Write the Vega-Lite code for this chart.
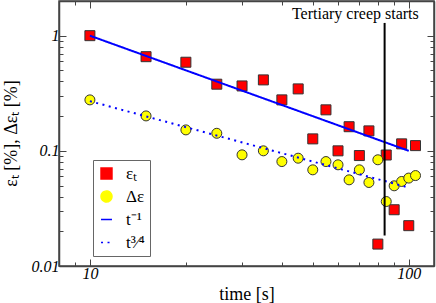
{
  "$schema": "https://vega.github.io/schema/vega-lite/v6.json",
  "width": 375,
  "height": 265,
  "autosize": {"type": "none"},
  "padding": {"left": 59, "top": 1, "right": 2, "bottom": 37},
  "background": "white",
  "config": {
    "view": {"stroke": "#444", "strokeWidth": 1.5},
    "axis": {
      "labelFont": "Liberation Serif", "labelFontStyle": "italic", "labelFontSize": 16, "labelColor": "black",
      "titleFont": "Liberation Serif", "titleFontSize": 18, "titleFontWeight": "normal", "titleColor": "black",
      "domainColor": "#444", "domainWidth": 1.5, "tickColor": "#444", "grid": false
    },
    "legend": {
      "labelFont": "Liberation Serif", "labelFontSize": 17, "labelColor": "black",
      "symbolSize": 120, "symbolStrokeWidth": 1.5, "rowPadding": 5, "padding": 5, "strokeColor": "#666", "fillColor": "white",
      "labelOffset": 11
    }
  },
  "resolve": {"axis": {"x": "independent", "y": "independent"}},
  "layer": [
    {
      "data": {"values": [
        {"t": 10, "v": 1.0, "series": "εₜ"},
        {"t": 15, "v": 0.657, "series": "εₜ"},
        {"t": 20, "v": 0.588, "series": "εₜ"},
        {"t": 25, "v": 0.379, "series": "εₜ"},
        {"t": 30, "v": 0.366, "series": "εₜ"},
        {"t": 35, "v": 0.413, "series": "εₜ"},
        {"t": 40, "v": 0.277, "series": "εₜ"},
        {"t": 45, "v": 0.345, "series": "εₜ"},
        {"t": 50, "v": 0.127, "series": "εₜ"},
        {"t": 55, "v": 0.227, "series": "εₜ"},
        {"t": 60, "v": 0.100, "series": "εₜ"},
        {"t": 65, "v": 0.162, "series": "εₜ"},
        {"t": 70, "v": 0.091, "series": "εₜ"},
        {"t": 75, "v": 0.149, "series": "εₜ"},
        {"t": 80, "v": 0.0155, "series": "εₜ"},
        {"t": 85, "v": 0.092, "series": "εₜ"},
        {"t": 90, "v": 0.0308, "series": "εₜ"},
        {"t": 95, "v": 0.115, "series": "εₜ"},
        {"t": 100, "v": 0.0224, "series": "εₜ"},
        {"t": 105, "v": 0.111, "series": "εₜ"},
        {"t": 10, "v": 0.277, "series": "Δε"},
        {"t": 15, "v": 0.201, "series": "Δε"},
        {"t": 20, "v": 0.152, "series": "Δε"},
        {"t": 25, "v": 0.142, "series": "Δε"},
        {"t": 30, "v": 0.0923, "series": "Δε"},
        {"t": 35, "v": 0.100, "series": "Δε"},
        {"t": 40, "v": 0.0807, "series": "Δε"},
        {"t": 45, "v": 0.0863, "series": "Δε"},
        {"t": 50, "v": 0.0684, "series": "Δε"},
        {"t": 55, "v": 0.0807, "series": "Δε"},
        {"t": 60, "v": 0.0756, "series": "Δε"},
        {"t": 65, "v": 0.056, "series": "Δε"},
        {"t": 70, "v": 0.0684, "series": "Δε"},
        {"t": 75, "v": 0.0531, "series": "Δε"},
        {"t": 80, "v": 0.0836, "series": "Δε"},
        {"t": 85, "v": 0.0363, "series": "Δε"},
        {"t": 90, "v": 0.0497, "series": "Δε"},
        {"t": 95, "v": 0.0542, "series": "Δε"},
        {"t": 100, "v": 0.058, "series": "Δε"},
        {"t": 105, "v": 0.061, "series": "Δε"}
      ]},
      "mark": {"type": "point", "filled": true, "stroke": "#333", "strokeWidth": 1, "size": 100, "opacity": 1},
      "encoding": {
        "x": {"field": "t", "type": "quantitative",
          "scale": {"type": "log", "domain": [8, 120], "nice": false},
          "axis": {"orient": "bottom", "title": "time [s]", "titlePadding": 4,
            "values": [8, 9, 10, 20, 30, 40, 50, 60, 70, 80, 90, 100],
            "labelExpr": "datum.value == 10 ? '10' : datum.value == 100 ? '100' : ''",
            "tickSize": {"condition": {"test": "datum.value == 10 || datum.value == 100", "value": -7}, "value": -4},
            "labelPadding": 6}},
        "y": {"field": "v", "type": "quantitative",
          "scale": {"type": "log", "domain": [0.01, 2], "nice": false},
          "axis": {"orient": "left", "title": "εₜ [%], Δεₜ [%]", "titleX": -39, "titleY": 132,
            "values": [0.01, 0.02, 0.03, 0.04, 0.05, 0.06, 0.07, 0.08, 0.09, 0.1, 0.2, 0.3, 0.4, 0.5, 0.6, 0.7, 0.8, 0.9, 1, 2],
            "labelExpr": "datum.value == 1 ? '1' : datum.value == 0.1 ? '0.1' : datum.value == 0.01 ? '0.01' : ''",
            "tickSize": {"condition": {"test": "datum.value == 1 || datum.value == 0.1 || datum.value == 0.01", "value": -7}, "value": -4},
            "labelPadding": 7}},
        "color": {"field": "series", "type": "nominal",
          "scale": {"domain": ["εₜ", "Δε", "t⁻¹", "t³⁄⁴"], "range": ["#ff0000", "#ffff00", "#0000ff", "#0000ff"]},
          "legend": {"title": null, "orient": "none", "legendX": 34, "legendY": 159}},
        "shape": {"field": "series", "type": "nominal",
          "scale": {"domain": ["εₜ", "Δε", "t⁻¹", "t³⁄⁴"], "range": ["square", "circle", "stroke", "stroke"]},
          "legend": {"title": null, "orient": "none", "legendX": 34, "legendY": 159}}
      }
    },
    {
      "data": {"values": [
        {"t": 10, "v": 1.0, "series": "t⁻¹"},
        {"t": 100, "v": 0.1, "series": "t⁻¹"},
        {"t": 10, "v": 0.27, "series": "t³⁄⁴"},
        {"t": 100, "v": 0.048, "series": "t³⁄⁴"}
      ]},
      "mark": {"type": "line", "strokeWidth": 2},
      "encoding": {
        "x": {"field": "t", "type": "quantitative",
          "axis": {"orient": "top", "title": null, "labels": false,
            "values": [8, 9, 10, 20, 30, 40, 50, 60, 70, 80, 90, 100],
            "tickSize": {"condition": {"test": "datum.value == 10 || datum.value == 100", "value": -7}, "value": -4}}},
        "y": {"field": "v", "type": "quantitative",
          "axis": {"orient": "right", "title": null, "labels": false,
            "values": [0.01, 0.02, 0.03, 0.04, 0.05, 0.06, 0.07, 0.08, 0.09, 0.1, 0.2, 0.3, 0.4, 0.5, 0.6, 0.7, 0.8, 0.9, 1, 2],
            "tickSize": {"condition": {"test": "datum.value == 1 || datum.value == 0.1 || datum.value == 0.01", "value": -7}, "value": -4}}},
        "color": {"field": "series", "type": "nominal",
          "legend": {"title": null, "orient": "none", "legendX": 34, "legendY": 159}},
        "strokeDash": {"field": "series", "type": "nominal",
          "scale": {"domain": ["εₜ", "Δε", "t⁻¹", "t³⁄⁴"], "range": [[1, 0], [1, 0], [1, 0], [2, 4.5]]},
          "legend": {"title": null, "orient": "none", "legendX": 34, "legendY": 159}}
      }
    },
    {
      "data": {"values": [{"t": 84, "top": 1.29, "bottom": 0.0184}]},
      "mark": {"type": "rule", "color": "black", "strokeWidth": 2},
      "encoding": {
        "x": {"field": "t", "type": "quantitative", "axis": null},
        "y": {"field": "top", "type": "quantitative", "axis": null},
        "y2": {"field": "bottom"}
      }
    },
    {
      "data": {"values": [{"label": "Tertiary creep starts", "t": 68, "v": 1.39}]},
      "mark": {"type": "text", "font": "Liberation Serif", "fontSize": 16, "align": "center", "baseline": "alphabetic", "color": "black"},
      "encoding": {
        "x": {"field": "t", "type": "quantitative", "axis": null},
        "y": {"field": "v", "type": "quantitative", "axis": null},
        "text": {"field": "label"}
      }
    }
  ]
}
